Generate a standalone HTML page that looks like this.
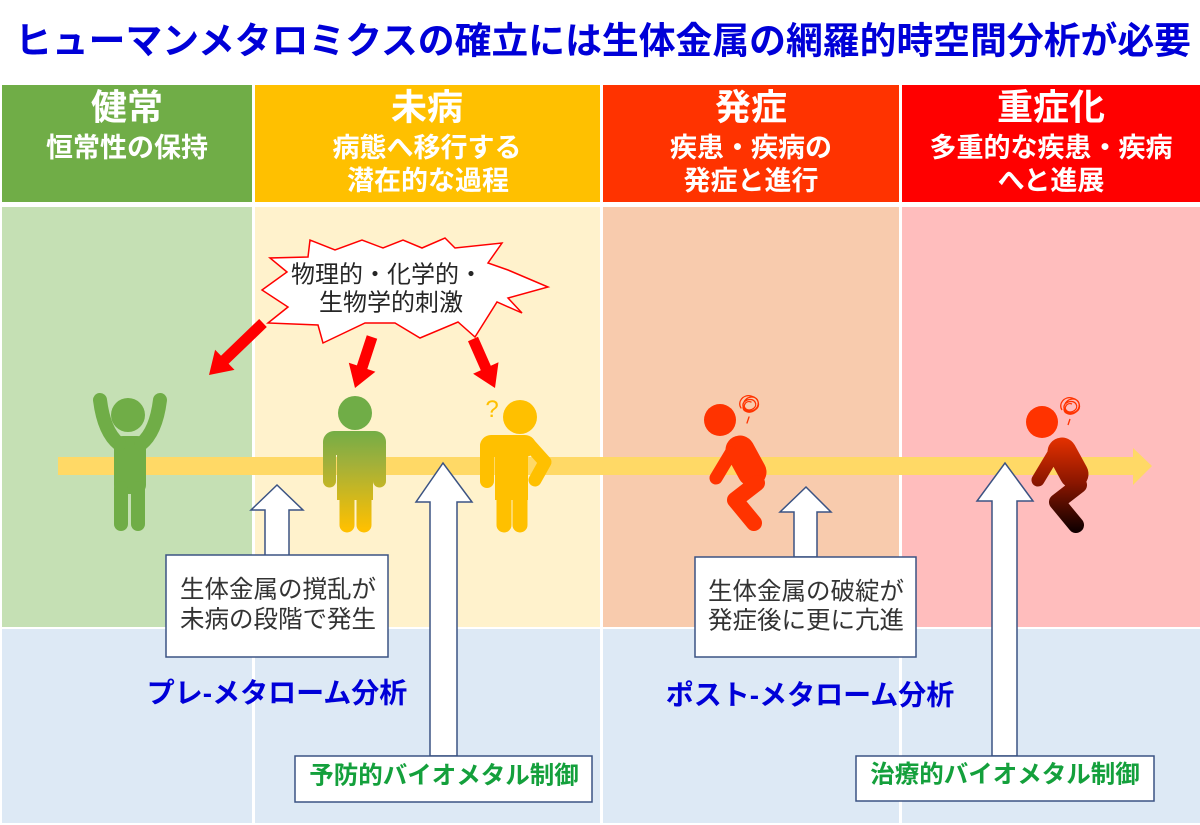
<!DOCTYPE html>
<html><head><meta charset="utf-8">
<style>
html,body{margin:0;padding:0;background:#fff;}
svg{display:block;}
text{font-family:"Liberation Sans","Noto Sans CJK JP",sans-serif;}
.b{font-weight:bold;}
</style></head>
<body>
<svg width="1200" height="825" viewBox="0 0 1200 825" xmlns="http://www.w3.org/2000/svg">
<defs>
<linearGradient id="gy" gradientUnits="userSpaceOnUse" x1="0" y1="428" x2="0" y2="530">
<stop offset="0" stop-color="#70ad47"/><stop offset="0.35" stop-color="#a2b03a"/><stop offset="1" stop-color="#ffc000"/>
</linearGradient>
<linearGradient id="gd" gradientUnits="userSpaceOnUse" x1="0" y1="436" x2="0" y2="530">
<stop offset="0" stop-color="#e83200"/><stop offset="0.5" stop-color="#8a1600"/><stop offset="1" stop-color="#120000"/>
</linearGradient>
</defs>

<!-- title -->
<text x="603" y="41" class="b" font-size="37" fill="#0000d8" text-anchor="middle" dominant-baseline="central" textLength="1176" lengthAdjust="spacingAndGlyphs">ヒューマンメタロミクスの確立には生体金属の網羅的時空間分析が必要</text>

<!-- header row -->
<rect x="2" y="85" width="250" height="117" fill="#70ad47"/>
<rect x="255" y="85" width="345" height="117" fill="#ffc000"/>
<rect x="603" y="85" width="296" height="117" fill="#ff3300"/>
<rect x="902" y="85" width="298" height="117" fill="#ff0000"/>

<!-- body row -->
<rect x="2" y="207" width="250" height="420" fill="#c5e0b4"/>
<rect x="255" y="207" width="345" height="420" fill="#fff2cc"/>
<rect x="603" y="207" width="296" height="420" fill="#f8cbad"/>
<rect x="902" y="207" width="298" height="420" fill="#ffbdbd"/>

<!-- bottom row -->
<rect x="2" y="629" width="250" height="194" fill="#dde9f5"/>
<rect x="255" y="629" width="345" height="194" fill="#dde9f5"/>
<rect x="603" y="629" width="296" height="194" fill="#dde9f5"/>
<rect x="902" y="629" width="298" height="194" fill="#dde9f5"/>

<!-- header texts -->
<g fill="#fff" class="b" text-anchor="middle" dominant-baseline="central">
<text x="127" y="107" font-size="36" class="b">健常</text>
<text x="127" y="148" font-size="27" class="b">恒常性の保持</text>
<text x="427" y="107" font-size="36" class="b">未病</text>
<text x="427" y="148" font-size="27" class="b">病態へ移行する</text>
<text x="428" y="181" font-size="27" class="b">潜在的な過程</text>
<text x="751" y="107" font-size="36" class="b">発症</text>
<text x="751" y="148" font-size="27" class="b">疾患・疾病の</text>
<text x="751" y="181" font-size="27" class="b">発症と進行</text>
<text x="1051" y="107" font-size="36" class="b">重症化</text>
<text x="1051" y="148" font-size="27" class="b">多重的な疾患・疾病</text>
<text x="1051" y="181" font-size="27" class="b">へと進展</text>
</g>

<!-- timeline arrow -->
<rect x="58" y="457" width="1076" height="18" fill="#ffd966"/>
<polygon points="1133,448 1152,466 1133,485" fill="#ffd966"/>

<!-- burst -->
<polygon points="262,290 287,272 270,258 308,257 310,240 335,250 362,240 383,248 403,240 422,248 445,238 455,248 502,243 488,263 508,270 548,287 508,298 522,313 497,302 475,337 458,322 420,338 395,323 365,323 323,343 318,325 268,323 288,307" fill="#fff" stroke="#ff0000" stroke-width="1.5" stroke-linejoin="miter"/>
<g fill="#262626" text-anchor="middle" dominant-baseline="central" font-size="24">
<text x="387" y="275">物理的・化学的・</text>
<text x="391" y="303">生物学的刺激</text>
</g>

<!-- red stimulus arrows -->
<g fill="#ff0000">
<polygon points="259.2,319.0 221.0,355.8 215.1,349.7 209,375 234.5,369.9 228.6,363.8 266.8,327.0"/>
<polygon points="366.8,335.2 356.9,365.4 348.8,362.7 355,388 375.4,371.7 367.3,369.0 377.2,338.8"/>
<polygon points="468.0,341.3 480.8,370.3 473.1,373.8 495,388 498.5,362.2 490.8,365.7 478.0,336.7"/>
</g>

<!-- green arms-up person -->
<g fill="#70ad47" stroke="#70ad47" stroke-linecap="round" stroke-linejoin="round">
<circle cx="128" cy="415" r="17" stroke="none"/>
<rect x="114" y="436" width="32" height="58" rx="9" stroke="none"/>
<path d="M100,400 Q104,432 119,444" fill="none" stroke-width="14"/>
<path d="M160,400 Q156,432 141,444" fill="none" stroke-width="14"/>
<line x1="121" y1="488" x2="121" y2="524" stroke-width="14"/>
<line x1="138" y1="488" x2="138" y2="524" stroke-width="14"/>
</g>

<!-- gradient person -->
<g fill="url(#gy)" stroke="url(#gy)" stroke-linecap="round">
<circle cx="355" cy="413" r="17" stroke="none" fill="#70ad47"/>
<rect x="323" y="431" width="63" height="24" rx="11" stroke="none"/>
<rect x="337" y="440" width="36" height="60" stroke="none"/>
<line x1="329.5" y1="446" x2="329.5" y2="481" stroke-width="13"/>
<line x1="379.5" y1="446" x2="379.5" y2="481" stroke-width="13"/>
<line x1="347" y1="495" x2="347" y2="525" stroke-width="15"/>
<line x1="364" y1="495" x2="364" y2="525" stroke-width="15"/>
</g>

<!-- yellow person -->
<g fill="#ffc000" stroke="#ffc000" stroke-linecap="round" stroke-linejoin="round">
<circle cx="520" cy="417" r="17" stroke="none"/>
<rect x="480" y="435" width="56" height="22" rx="11" stroke="none"/>
<rect x="495" y="440" width="33" height="60" stroke="none"/>
<line x1="487" y1="446" x2="487" y2="481" stroke-width="14"/>
<path d="M528,443 L545,462 L535,480" fill="none" stroke-width="13"/>
<line x1="504" y1="495" x2="504" y2="525" stroke-width="15"/>
<line x1="520" y1="495" x2="520" y2="525" stroke-width="15"/>
</g>
<text x="492" y="417" font-size="24" fill="#ffc000" text-anchor="middle">?</text>

<!-- red hunched person -->
<g stroke="#ff3300" fill="none" stroke-linecap="round" stroke-linejoin="round">
<circle cx="720" cy="420" r="16" fill="#ff3300" stroke="none"/>
<line x1="740" y1="450" x2="752" y2="472" stroke-width="29"/>
<line x1="731" y1="453" x2="716" y2="478" stroke-width="13"/>
<path d="M757,483 L735,500 L754,523" stroke-width="16"/>
<path d="M744,402 c4,-8 16,-6 14,3 c-2,8 -14,8 -15,1 c-1,-6 9,-9 12,-4 c3,5 -4,10 -9,7 c-4,-3 0,-9 5,-7 M741,408 c-4,-6 2,-14 10,-12 c8,2 10,10 4,14 c-5,4 -12,2 -12,-3 M749,417 l-2,6" stroke-width="1.3"/>
</g>

<!-- dark person -->
<g stroke="url(#gd)" fill="none" stroke-linecap="round" stroke-linejoin="round">
<circle cx="1042" cy="422" r="16" fill="#ff3300" stroke="none"/>
<line x1="1062" y1="452" x2="1074" y2="474" stroke-width="29"/>
<line x1="1053" y1="455" x2="1038" y2="480" stroke-width="13"/>
<path d="M1079,485 L1057,502 L1076,525" stroke-width="16"/>
</g>
<path d="M1065,404 c4,-8 16,-6 14,3 c-2,8 -14,8 -15,1 c-1,-6 9,-9 12,-4 c3,5 -4,10 -9,7 c-4,-3 0,-9 5,-7 M1062,410 c-4,-6 2,-14 10,-12 c8,2 10,10 4,14 c-5,4 -12,2 -12,-3 M1070,419 l-2,6" stroke="#ff3300" fill="none" stroke-width="1.3"/>

<!-- block up arrows -->
<g fill="#fff" stroke="#3b5383" stroke-width="1.5" stroke-linejoin="miter">
<polygon points="265,556 265,510 251,510 277,485 303,510 289,510 289,556"/>
<polygon points="430,756 430,502 416,502 443,463 472,502 457,502 457,756"/>
<polygon points="794,557 794,512 780,512 806,487 831,512 817,512 817,557"/>
<polygon points="992,756 992,501 977,501 1005,463 1033,501 1017,501 1017,756"/>
</g>

<!-- boxes -->
<g fill="#fff" stroke="#3b5383" stroke-width="1.5">
<rect x="166" y="555" width="222" height="102"/>
<rect x="695" y="557" width="221" height="100"/>
<rect x="295" y="756" width="297" height="46"/>
<rect x="856" y="756" width="298" height="45"/>
</g>
<g fill="#333" text-anchor="middle" dominant-baseline="central" font-size="24.5">
<text x="278" y="590">生体金属の撹乱が</text>
<text x="278" y="620">未病の段階で発生</text>
<text x="806" y="592">生体金属の破綻が</text>
<text x="806" y="621">発症後に更に亢進</text>
</g>
<g fill="#14a03c" class="b" text-anchor="middle" dominant-baseline="central" font-size="24.5">
<text x="444" y="776" class="b">予防的バイオメタル制御</text>
<text x="1005" y="775" class="b">治療的バイオメタル制御</text>
</g>

<!-- analysis labels -->
<g fill="#0000d8" class="b" text-anchor="middle" dominant-baseline="central" font-size="28">
<text x="277" y="693" class="b">プレ-メタローム分析</text>
<text x="810" y="695" class="b">ポスト-メタローム分析</text>
</g>
</svg>
</body></html>
